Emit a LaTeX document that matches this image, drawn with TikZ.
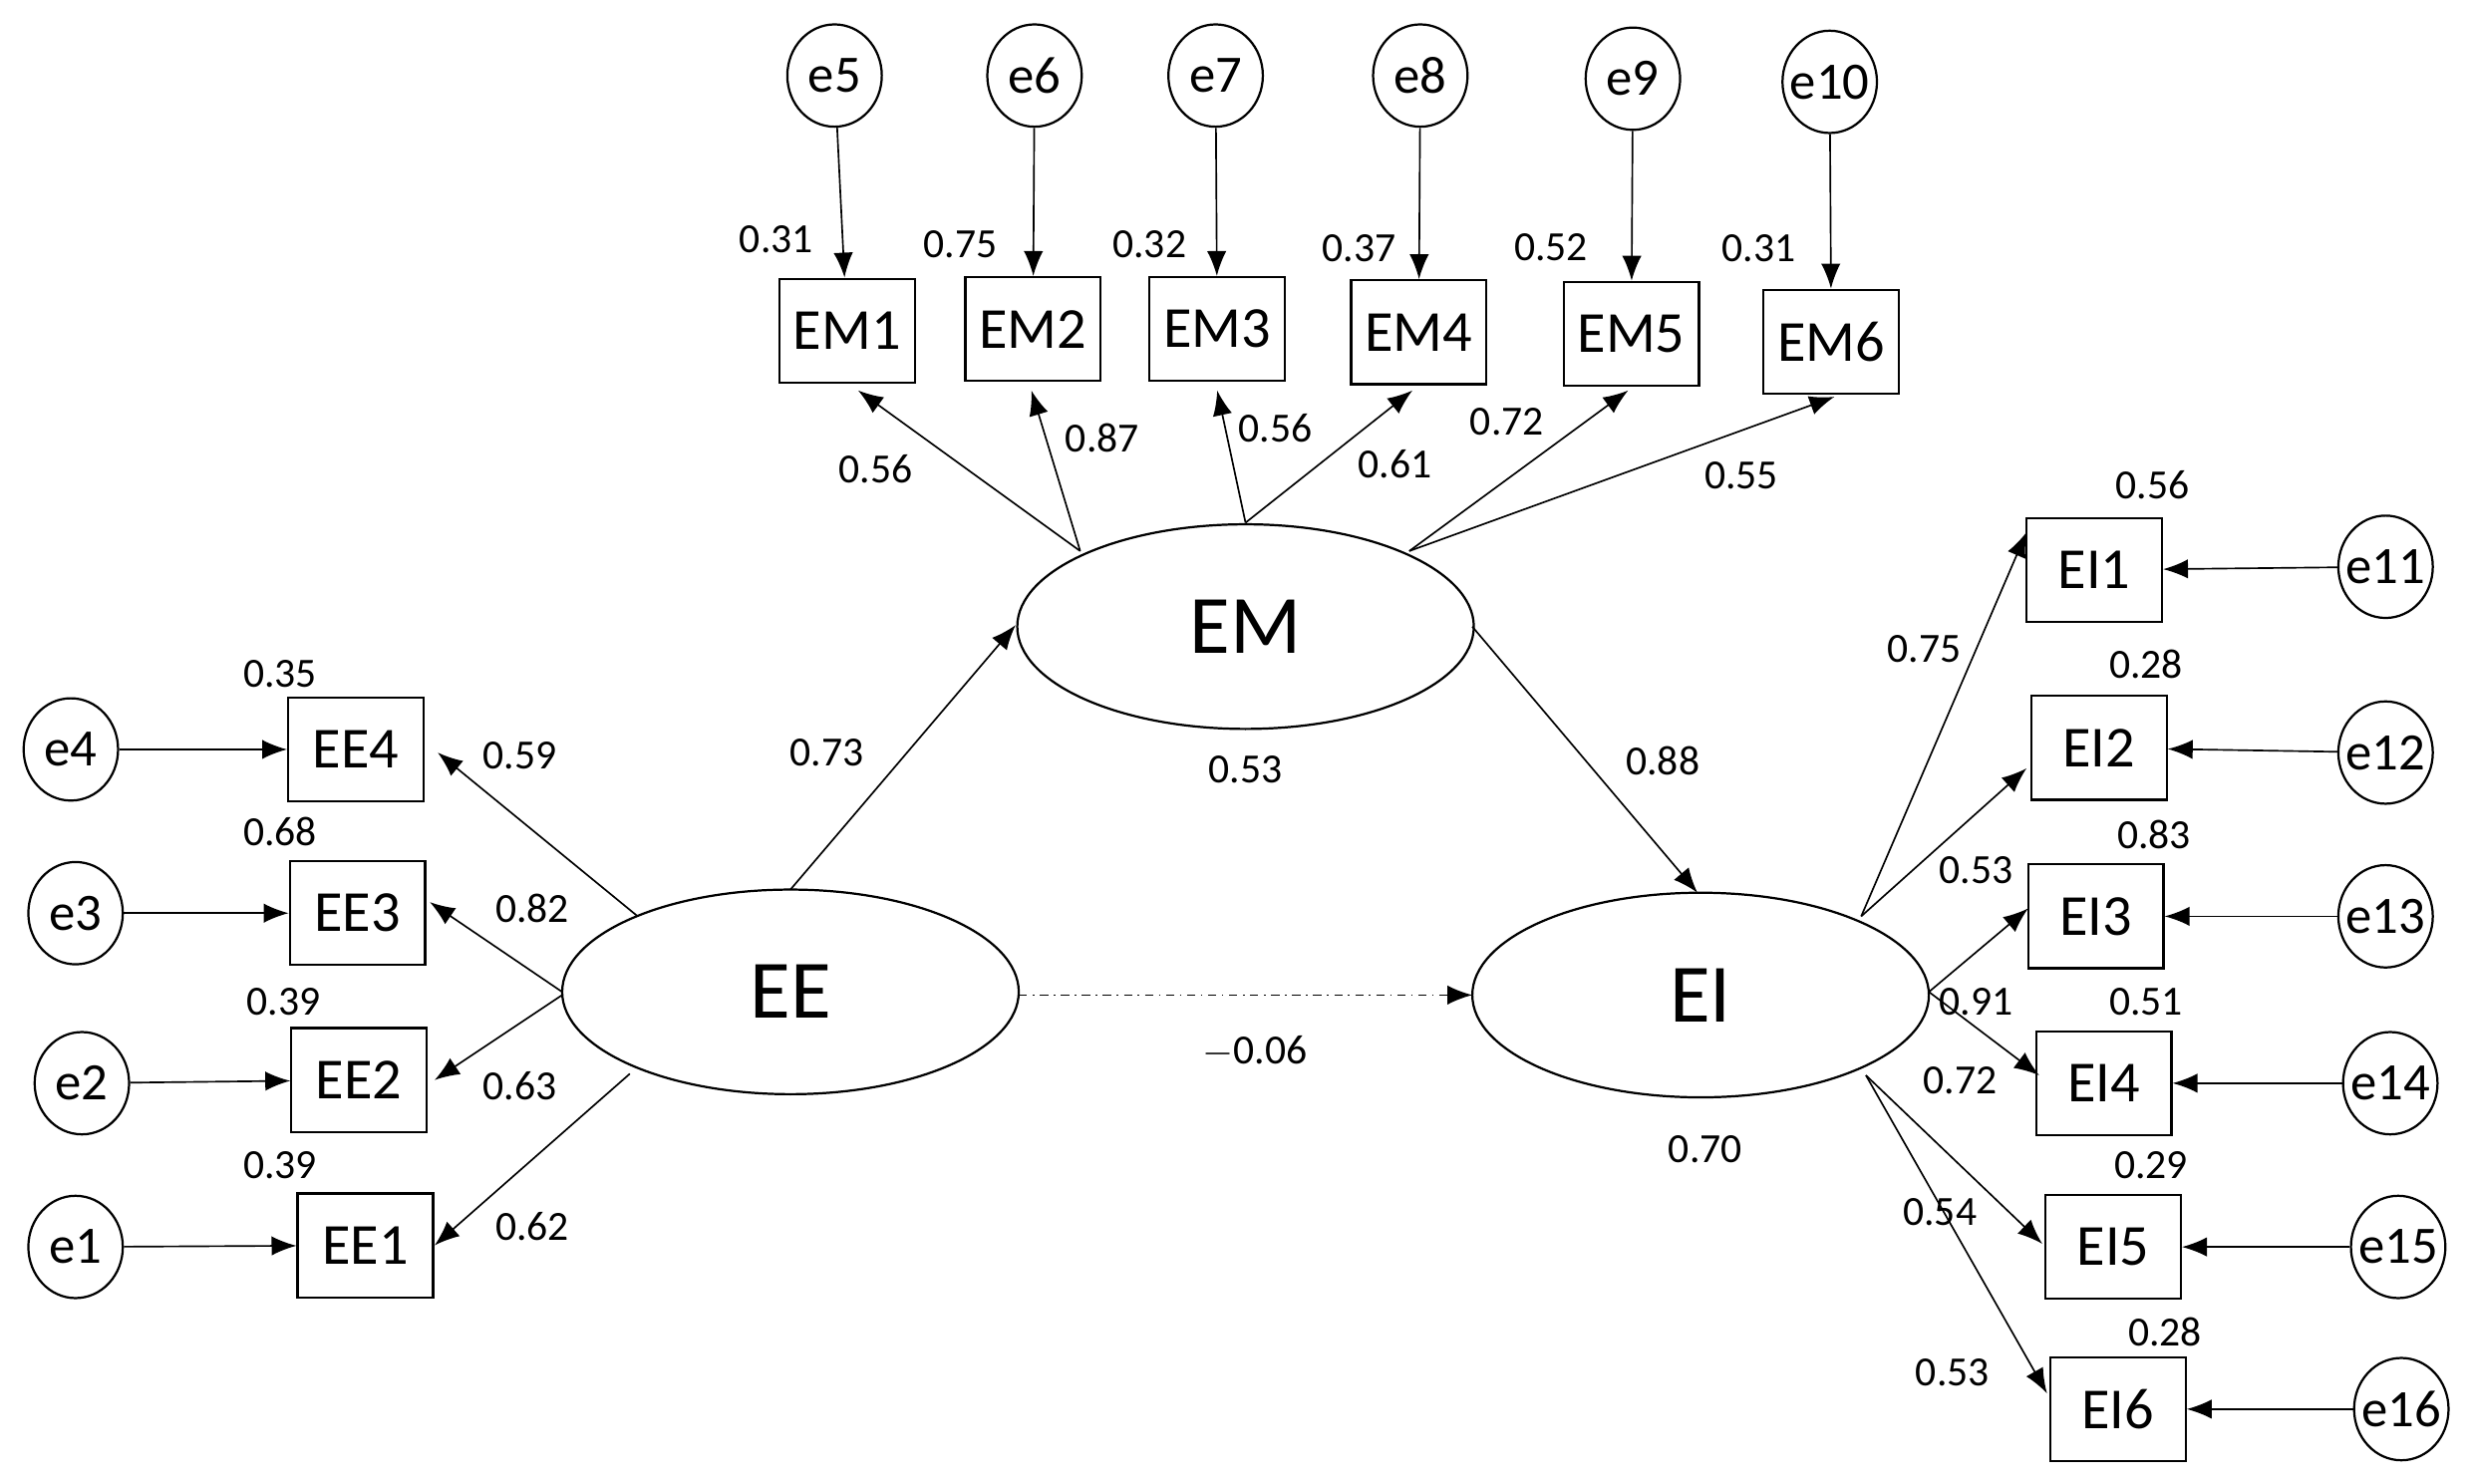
\documentclass[tikz,border=0pt]{standalone}
\usepackage{fontspec}
\setmainfont{Carlito}
\usetikzlibrary{arrows.meta,shapes.geometric}
\begin{document}
\begin{tikzpicture}[x=0.02cm,y=-0.02cm,
 box/.style={draw,line width=0.8pt,minimum width=1.72cm,minimum height=1.32cm,inner sep=0pt,font=\fontsize{21}{21}\selectfont},
 err/.style={draw,line width=0.8pt,ellipse,minimum width=1.2cm,minimum height=1.3cm,inner sep=0pt,font=\fontsize{19}{19}\selectfont},
 lat/.style={draw,line width=0.8pt,ellipse,minimum width=5.8cm,minimum height=2.6cm,font=\fontsize{30}{30}\selectfont},
 num/.style={font=\fontsize{15}{15}\selectfont,inner sep=0pt},
 arr/.style={-{Latex[length=9pt,width=7pt]},line width=0.6pt}]
\useasboundingbox (0,0) rectangle (1568,942);
% latent
\node[lat] (EM) at (791,398) {EM};
\node[lat] (EE) at (502,630) {EE};
\node[lat] (EI) at (1080,632) {EI};
% EM indicators
\foreach \n/\x/\y/\ex/\ey/\lx/\ly/\v/\en in {1/538/210/530/48/493/152/0.31/5,2/656/209/657/48/610/155/0.75/6,3/773/209/772/48/730/155/0.32/7,4/901/211/902/48/863/158/0.37/8,5/1036/212/1037/50/985/157/0.52/9,6/1163/217/1162/52/1117/158/0.31/10}{
 \node[box] (EM\n) at (\x,\y) {EM\n};
 \node[err] (e\n) at (\ex,\ey) {};
 \node[font=\fontsize{19}{19}\selectfont] at (e\n) {e\en};
 \node[num] (r\n) at (\lx,\ly) {\v};
 \draw[arr] (e\n) -- (EM\n);
}
\coordinate (mA) at (686,350);
\coordinate (mB) at (791,332);
\coordinate (mC) at (895,350);
\coordinate (t1) at (545,248); \coordinate (t2) at (655,248);
\coordinate (t3) at (773,248); \coordinate (t4) at (897,248);
\coordinate (t5) at (1034,248); \coordinate (t6) at (1165,252);
\draw[arr] (mA) -- (t1); \draw[arr] (mA) -- (t2);
\draw[arr] (mB) -- (t3); \draw[arr] (mB) -- (t4);
\draw[arr] (mC) -- (t5); \draw[arr] (mC) -- (t6);
\node[num] at (556,298) {0.56};
\node[num] at (700,278) {0.87};
\node[num] at (810,272) {0.56};
\node[num] at (886,295) {0.61};
\node[num] at (957,268) {0.72};
\node[num] at (1106,302) {0.55};
% EE indicators
\foreach \n/\x/\y/\ex/\ey/\lx/\ly/\v in {4/226/476/45/476/178/428/0.35,3/227/580/48/580/178/528/0.68,2/228/686/52/688/180/636/0.39,1/232/791/48/792/178/740/0.39}{
 \node[box] (EE\n) at (\x,\y) {EE\n};
 \node[err] (ee\n) at (\ex,\ey) {e\n};
 \node[num] at (\lx,\ly) {\v};
 \draw[arr] (ee\n) -- (EE\n);
}
\coordinate (a4) at (405,582); \coordinate (a3) at (357,630);
\coordinate (a2) at (357,632); \coordinate (a1) at (400,682);
\coordinate (b4) at (278,478); \coordinate (b3) at (273,573);
\coordinate (b2) at (276,686); \coordinate (b1) at (276,791);
\foreach \i in {1,...,4}{\draw[arr] (a\i) -- (b\i);}
\node[num] at (330,480) {0.59};
\node[num] at (338,577) {0.82};
\node[num] at (330,690) {0.63};
\node[num] at (338,779) {0.62};
% structural
\coordinate (s1) at (502,565); \coordinate (s2) at (645,397);
\coordinate (s3) at (935,398); \coordinate (s4) at (1078,567);
\coordinate (s5) at (647,632); \coordinate (s6) at (935,632);
\draw[arr] (s1) -- (s2);
\draw[arr] (s3) -- (s4);
\draw[arr,dash dot] (s5) -- (s6);
\node[num] at (525,478) {0.73};
\node[num] at (1056,483) {0.88};
\node[num] at (791,489) {0.53};
\node[num] at (797,668) {$-$0.06};
\node[num] at (1083,730) {0.70};
% EI indicators
\foreach \n/\x/\y/\ex/\ey/\lx/\ly/\v/\en in {1/1330/362/1515/360/1367/308/0.56/11,2/1333/475/1515/478/1363/422/0.28/12,3/1331/582/1515/582/1368/530/0.83/13,4/1336/688/1518/688/1363/636/0.51/14,5/1342/792/1523/792/1366/740/0.29/15,6/1345/895/1525/895/1375/846/0.28/16}{
 \node[box] (EI\n) at (\x,\y) {EI\n};
 \node[err] (ei\n) at (\ex,\ey) {};
 \node[font=\fontsize{19}{19}\selectfont] at (ei\n) {e\en};
 \node[num] at (\lx,\ly) {\v};
 \draw[arr] (ei\n) -- (EI\n);
}
\coordinate (c1) at (1182,582); \coordinate (c2) at (1182,582);
\coordinate (c3) at (1225,630); \coordinate (c4) at (1225,630);
\coordinate (c5) at (1185,683); \coordinate (c6) at (1185,683);
\coordinate (d1) at (1287,338); \coordinate (d2) at (1287,488);
\coordinate (d3) at (1288,577); \coordinate (d4) at (1295,683);
\coordinate (d5) at (1297,790); \coordinate (d6) at (1300,885);
\foreach \i in {1,...,6}{\draw[arr] (c\i) -- (d\i);}
\node[num] at (1222,412) {0.75};
\node[num] at (1255,553) {0.53};
\node[num] at (1255,636) {0.91};
\node[num] at (1245,686) {0.72};
\node[num] at (1232,770) {0.54};
\node[num] at (1240,872) {0.53};
\end{tikzpicture}
\end{document}
